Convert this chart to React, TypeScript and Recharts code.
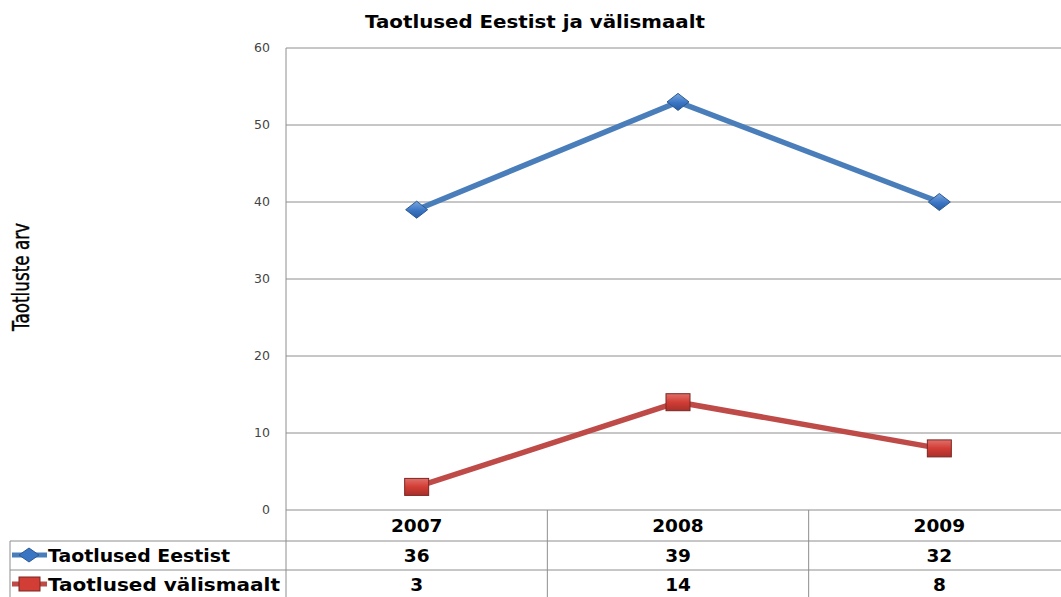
import { LineChart, Line, XAxis, YAxis, CartesianGrid } from 'recharts';

const years = ['2007', '2008', '2009'];
const eestist = [39, 53, 40];
const valismaalt = [3, 14, 8];
const tableEestist = [36, 39, 32];
const tableValismaalt = [3, 14, 8];
const yTicks = [0, 10, 20, 30, 40, 50, 60];

const data = years.map((year, i) => ({ year, eestist: eestist[i], valismaalt: valismaalt[i] }));

const W = 1070;
const H = 597;
const PLOT_LEFT = 286;
const PLOT_TOP = 48;
const PLOT_BOTTOM = 510;
const BW = (W - PLOT_LEFT) / years.length;
const GRID = '#8e8e8e';
const BLUE = '#4a7ebb';
const RED = '#be4b48';
const tableFont = '"DejaVu Sans", Verdana, sans-serif';
const FS = 18.5;

const Diamond = (props: any) => {
  const { cx, cy, index } = props;
  if (cx == null || cy == null) return null;
  return (
    <g key={`d-${index}`}>
      <defs>
        <linearGradient id={`gd-${index}`} x1="0" y1="0" x2="0" y2="1">
          <stop offset="0%" stopColor="#7aa6de" />
          <stop offset="55%" stopColor="#3a75c4" />
          <stop offset="100%" stopColor="#2a5d9f" />
        </linearGradient>
      </defs>
      <path d={`M${cx - 11},${cy} L${cx},${cy - 8.5} L${cx + 11},${cy} L${cx},${cy + 8.5} Z`}
        fill={`url(#gd-${index})`} stroke="#2c5a92" strokeWidth={1} />
    </g>
  );
};

const Square = (props: any) => {
  const { cx, cy, index } = props;
  if (cx == null || cy == null) return null;
  return (
    <g key={`s-${index}`}>
      <defs>
        <linearGradient id={`gs-${index}`} x1="0" y1="0" x2="0" y2="1">
          <stop offset="0%" stopColor="#e0706a" />
          <stop offset="50%" stopColor="#d23d35" />
          <stop offset="100%" stopColor="#a8302b" />
        </linearGradient>
      </defs>
      <rect x={cx - 12} y={cy - 8.5} width={24} height={17}
        fill={`url(#gs-${index})`} stroke="#7a2623" strokeWidth={1} />
    </g>
  );
};

const TableTick = (props: any) => {
  const { x, payload } = props;
  const i = payload.index;
  const top = PLOT_BOTTOM;
  const rows = [541, 570, H];
  return (
    <g>
      {i === 0 && (
        <g>
          <line x1={PLOT_LEFT} y1={top} x2={PLOT_LEFT} y2={H} stroke={GRID} />
          <line x1={10} y1={rows[0]} x2={10} y2={H} stroke={GRID} />
          <line x1={10} y1={rows[0]} x2={W} y2={rows[0]} stroke={GRID} />
          <line x1={10} y1={rows[1]} x2={W} y2={rows[1]} stroke={GRID} />
          <line x1={12} y1={555} x2={47} y2={555} stroke={BLUE} strokeWidth={5} />
          <path d="M19,555 L29,548 L39,555 L29,562 Z" fill="#3a75c4" stroke="#2c5a92" />
          <line x1={12} y1={584} x2={47} y2={584} stroke={RED} strokeWidth={5} />
          <rect x={19} y={577} width={21} height={14} fill="#d23d35" stroke="#7a2623" />
          <text x={48} y={562} fontFamily={tableFont} fontWeight="bold" fontSize={FS} fill="#000"
            textLength={182} lengthAdjust="spacingAndGlyphs">Taotlused Eestist</text>
          <text x={48} y={591} fontFamily={tableFont} fontWeight="bold" fontSize={FS} fill="#000"
            textLength={232} lengthAdjust="spacingAndGlyphs">Taotlused välismaalt</text>
        </g>
      )}
      <line x1={x + BW / 2} y1={top} x2={x + BW / 2} y2={H} stroke={GRID} />
      <text x={x} y={532} textAnchor="middle" fontFamily={tableFont} fontWeight="bold" fontSize={FS} fill="#000">{payload.value}</text>
      <text x={x} y={562} textAnchor="middle" fontFamily={tableFont} fontWeight="bold" fontSize={FS} fill="#000">{tableEestist[i]}</text>
      <text x={x} y={591} textAnchor="middle" fontFamily={tableFont} fontWeight="bold" fontSize={FS} fill="#000">{tableValismaalt[i]}</text>
    </g>
  );
};

const YTitle = (props: any) => {
  const { viewBox } = props;
  const cy = viewBox.y + viewBox.height / 2 - 2;
  return (
    <text x={22} y={cy} transform={`rotate(-90 22 ${cy})`} textAnchor="middle" dominantBaseline="middle"
      fontFamily={tableFont} fontSize={23} fill="#000" stroke="#000" strokeWidth={0.4}
      textLength={108} lengthAdjust="spacingAndGlyphs">
      Taotluste arv
    </text>
  );
};

export default function App() {
  return (
    <div style={{ position: 'absolute', left: 0, top: 0, width: 1061, height: H, overflow: 'hidden', background: '#fff' }}>
      <svg width={1061} height={40} style={{ position: 'absolute', left: 0, top: 0 }}>
        <text x={535} y={28} textAnchor="middle" fontFamily={tableFont} fontWeight="bold" fontSize={18} fill="#000"
          textLength={340} lengthAdjust="spacingAndGlyphs">
          Taotlused Eestist ja välismaalt
        </text>
      </svg>
      <LineChart width={W} height={H} data={data} margin={{ top: PLOT_TOP, right: 0, left: PLOT_LEFT - 60, bottom: 0 }}>
        <CartesianGrid vertical={false} stroke={GRID} />
        <XAxis dataKey="year" scale="band" height={H - PLOT_BOTTOM} axisLine={false} tickLine={false} interval={0}
          tick={<TableTick />} tickSize={0} tickMargin={0} />
        <YAxis width={60} domain={[0, 60]} ticks={yTicks} interval={0} axisLine={{ stroke: GRID }} tickLine={false}
          tick={{ fontSize: 12.5, fill: '#444', fontFamily: tableFont, dx: -8 }} label={<YTitle />} />
        <Line dataKey="eestist" stroke={BLUE} strokeWidth={5.5} dot={<Diamond />} activeDot={false} isAnimationActive={false} />
        <Line dataKey="valismaalt" stroke={RED} strokeWidth={5.5} dot={<Square />} activeDot={false} isAnimationActive={false} />
      </LineChart>
    </div>
  );
}
